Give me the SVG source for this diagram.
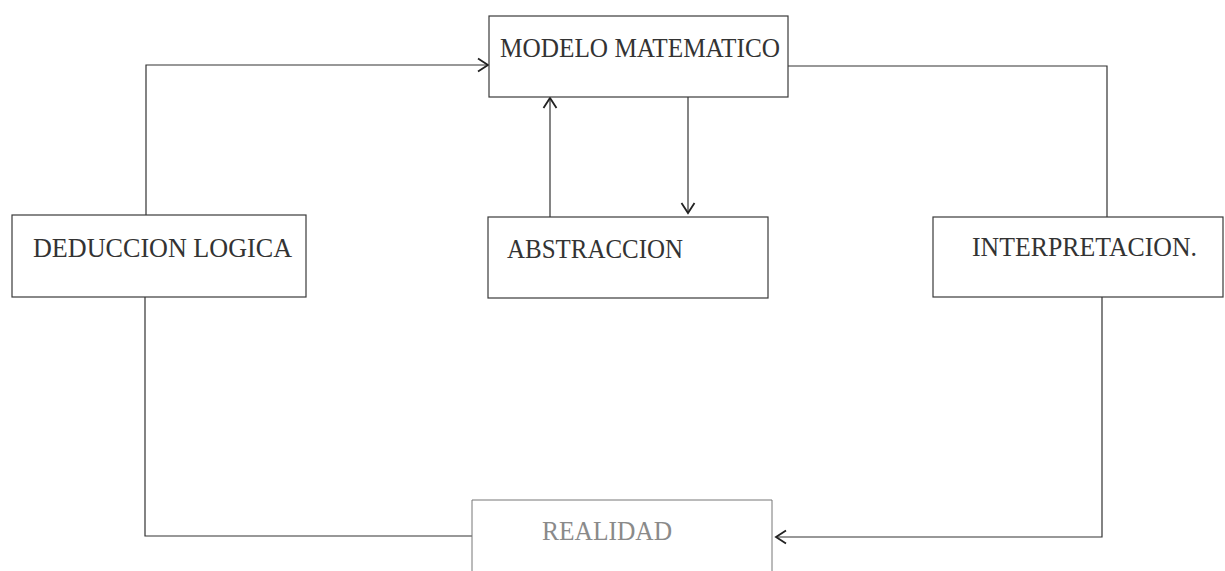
<svg xmlns="http://www.w3.org/2000/svg" width="1225" height="571" viewBox="0 0 1225 571">
<style>
.box{fill:#fff;stroke:#3a3a3a;stroke-width:1.2}
.lbl{font-family:"Liberation Serif","DejaVu Serif",serif;font-size:27px;fill:#333}
.faint{fill:#8a8a8a}
.faintbox{fill:#fff;stroke:#777;stroke-width:1}
.con{fill:none;stroke:#333;stroke-width:1.2}
</style>
<defs>
<marker id="arr" markerWidth="16" markerHeight="16" refX="13" refY="8" orient="auto" markerUnits="userSpaceOnUse">
<path d="M3,1.5 L13,8 L3,14.5" fill="none" stroke="#222" stroke-width="1.8"/>
</marker>
</defs>
<rect width="1225" height="571" fill="#fff"/>
<g id="connectors">
<path class="con" d="M146,215 V65 H488" marker-end="url(#arr)"/>
<path class="con" d="M788,66 H1107 V217"/>
<path class="con" d="M550,217 V98" marker-end="url(#arr)"/>
<path class="con" d="M688,97 V213" marker-end="url(#arr)"/>
<path class="con" d="M145,297 V536 H472"/>
<path class="con" d="M1102,297 V537 H776" marker-end="url(#arr)"/>
</g>
<g id="modelo">
<rect class="box" x="489" y="16" width="299" height="81"/>
<text class="lbl" x="500" y="57" textLength="280" lengthAdjust="spacingAndGlyphs">MODELO MATEMATICO</text>
</g>
<g id="deduccion">
<rect class="box" x="12" y="215" width="294" height="82"/>
<text class="lbl" x="33" y="257" textLength="259" lengthAdjust="spacingAndGlyphs">DEDUCCION LOGICA</text>
</g>
<g id="abstraccion">
<rect class="box" x="488" y="217" width="280" height="81"/>
<text class="lbl" x="507" y="258" textLength="176" lengthAdjust="spacingAndGlyphs">ABSTRACCION</text>
</g>
<g id="interpretacion">
<rect class="box" x="933" y="217" width="290" height="80"/>
<text class="lbl" x="972" y="256" textLength="225" lengthAdjust="spacingAndGlyphs">INTERPRETACION.</text>
</g>
<g id="realidad">
<path class="faintbox" d="M472,575 V500 H772 V575"/>
<text class="lbl faint" x="542" y="540" textLength="130" lengthAdjust="spacingAndGlyphs">REALIDAD</text>
</g>
</svg>
